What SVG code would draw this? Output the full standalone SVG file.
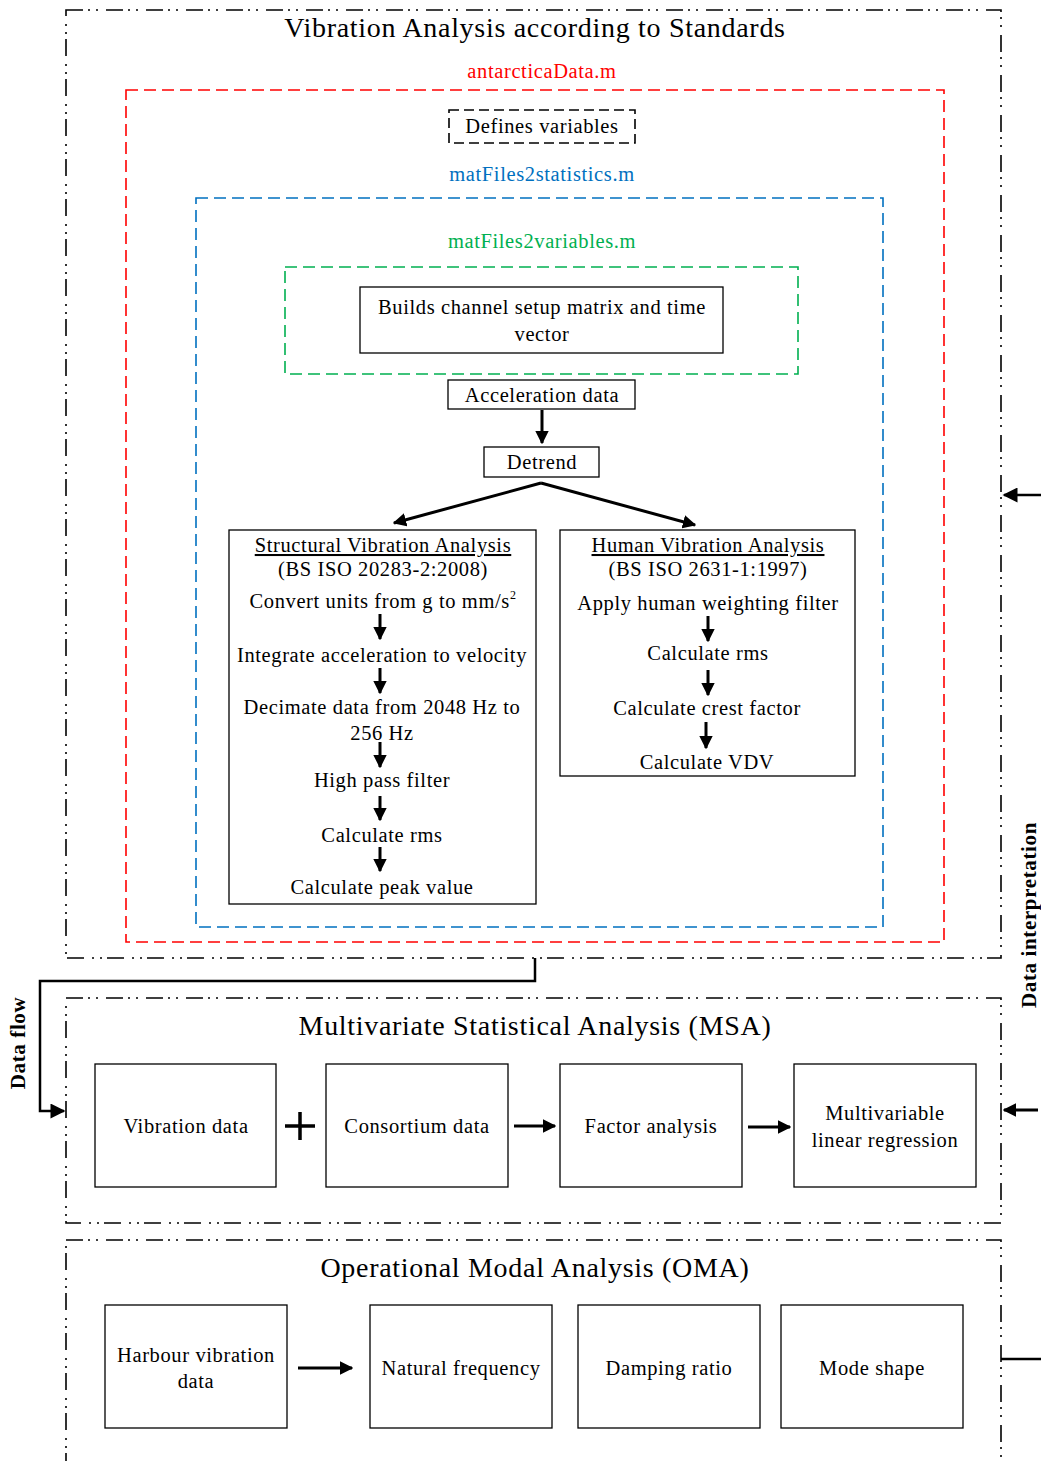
<svg xmlns="http://www.w3.org/2000/svg" width="1041" height="1461" viewBox="0 0 1041 1461">
<style>
text{font-family:"Liberation Serif","Times New Roman",serif;fill:#000;letter-spacing:0.03em}
.t26{font-size:28px;text-anchor:middle;letter-spacing:0.025em}
.t19{font-size:20.5px;text-anchor:middle}
.t20{font-size:20.5px;text-anchor:middle}
.b{font-weight:bold;font-size:21px;text-anchor:middle}
.frame{fill:none;stroke:#000;stroke-width:1.6;stroke-dasharray:17 5 2 6 2 8}
.box{fill:#fff;stroke:#000;stroke-width:1.3}
.red{fill:none;stroke:#f00;stroke-width:1.6;stroke-dasharray:12 6}
.blue{fill:none;stroke:#0070C0;stroke-width:1.6;stroke-dasharray:12 6}
.green{fill:none;stroke:#00B050;stroke-width:1.6;stroke-dasharray:12 6}
.blk{fill:none;stroke:#000;stroke-width:1.6;stroke-dasharray:10 5}
.c{fill:none;stroke:#000;stroke-width:3}
.c2{fill:none;stroke:#000;stroke-width:2.5}
</style>
<defs>
<marker id="ah" viewBox="0 0 10 10" refX="9" refY="5" markerWidth="4.5" markerHeight="4.5" markerUnits="strokeWidth" orient="auto">
<path d="M0,0 L10,5 L0,10 z" fill="#000"/>
</marker>
<marker id="ah2" viewBox="0 0 10 10" refX="9" refY="5" markerWidth="9" markerHeight="6" markerUnits="strokeWidth" orient="auto">
<path d="M0,0 L10,5 L0,10 z" fill="#000"/>
</marker>
</defs>
<rect width="1041" height="1461" fill="#fff"/>

<g id="vas">
<rect class="frame" x="66" y="10" width="935" height="948"/>
<text class="t26" x="535" y="37">Vibration Analysis according to Standards</text>
</g>
<g id="antarcticaData">
<text class="t19" x="542" y="78" style="fill:#f00">antarcticaData.m</text>
<rect class="red" x="126" y="90" width="818" height="852"/>
</g>
<g id="defines">
<rect class="blk" x="449" y="110" width="186" height="33"/>
<text class="t19" x="542" y="133">Defines variables</text>
</g>
<g id="matFiles2statistics">
<text class="t19" x="542" y="181" style="fill:#0070C0">matFiles2statistics.m</text>
<rect class="blue" x="196" y="198" width="687" height="729"/>
</g>
<g id="matFiles2variables">
<text class="t19" x="542" y="248" style="fill:#00B050">matFiles2variables.m</text>
<rect class="green" x="285" y="267" width="513" height="107"/>
</g>
<g id="builds">
<rect class="box" x="360" y="287" width="363" height="66"/>
<text class="t19" x="542" y="314">Builds channel setup matrix and time</text>
<text class="t19" x="542" y="341">vector</text>
</g>
<g id="accel">
<rect class="box" x="448" y="380" width="187" height="29"/>
<text class="t19" x="542" y="402">Acceleration data</text>
</g>
<g id="detrend">
<rect class="box" x="484" y="447" width="115" height="30"/>
<text class="t19" x="542" y="469">Detrend</text>
</g>
<g id="structural">
<rect class="box" x="229" y="530" width="307" height="374"/>
<text class="t19" x="383" y="552" text-decoration="underline">Structural Vibration Analysis</text>
<text class="t19" x="383" y="576">(BS ISO 20283-2:2008)</text>
<text class="t19" x="383" y="608">Convert units from g to mm/s<tspan font-size="12" dy="-9">2</tspan></text>
<text class="t19" x="382" y="662">Integrate acceleration to velocity</text>
<text class="t19" x="382" y="714">Decimate data from 2048 Hz to</text>
<text class="t19" x="382" y="740">256 Hz</text>
<text class="t19" x="382" y="787">High pass filter</text>
<text class="t19" x="382" y="842">Calculate rms</text>
<text class="t19" x="382" y="894">Calculate peak value</text>
</g>
<g id="human">
<rect class="box" x="560" y="530" width="295" height="246"/>
<text class="t19" x="708" y="552" text-decoration="underline">Human Vibration Analysis</text>
<text class="t19" x="708" y="576">(BS ISO 2631-1:1997)</text>
<text class="t19" x="708" y="610">Apply human weighting filter</text>
<text class="t19" x="708" y="660">Calculate rms</text>
<text class="t19" x="707" y="715">Calculate crest factor</text>
<text class="t19" x="707" y="769">Calculate VDV</text>
</g>

<g id="msa">
<rect class="frame" x="66" y="998" width="935" height="225"/>
<text class="t26" x="535" y="1035">Multivariate Statistical Analysis (MSA)</text>
</g>
<g id="vibdata"><rect class="box" x="95" y="1064" width="181" height="123"/><text class="t20" x="186" y="1133">Vibration data</text></g>
<g id="consortium"><rect class="box" x="326" y="1064" width="182" height="123"/><text class="t20" x="417" y="1133">Consortium data</text></g>
<g id="factor"><rect class="box" x="560" y="1064" width="182" height="123"/><text class="t20" x="651" y="1133">Factor analysis</text></g>
<g id="mlr"><rect class="box" x="794" y="1064" width="182" height="123"/><text class="t20" x="885" y="1120">Multivariable</text><text class="t20" x="885" y="1147">linear regression</text></g>

<g id="oma">
<rect class="frame" x="66" y="1240" width="935" height="240"/>
<text class="t26" x="535" y="1277">Operational Modal Analysis (OMA)</text>
</g>
<g id="harbour"><rect class="box" x="105" y="1305" width="182" height="123"/><text class="t20" x="196" y="1362">Harbour vibration</text><text class="t20" x="196" y="1388">data</text></g>
<g id="natural"><rect class="box" x="370" y="1305" width="182" height="123"/><text class="t20" x="461" y="1375">Natural frequency</text></g>
<g id="damping"><rect class="box" x="578" y="1305" width="182" height="123"/><text class="t20" x="669" y="1375">Damping ratio</text></g>
<g id="mode"><rect class="box" x="781" y="1305" width="182" height="123"/><text class="t20" x="872" y="1375">Mode shape</text></g>

<g id="labels">
<text class="b" transform="translate(25,1043) rotate(-90)">Data flow</text>
<text class="b" transform="translate(1036,915) rotate(-90)">Data interpretation</text>
</g>

<g id="connectors">
<line class="c" x1="542" y1="410" x2="542" y2="443" marker-end="url(#ah)"/>
<line class="c" x1="541" y1="483" x2="394" y2="523" marker-end="url(#ah)"/>
<line class="c" x1="541" y1="483" x2="695" y2="525" marker-end="url(#ah)"/>
<line class="c" x1="380" y1="614" x2="380" y2="639" marker-end="url(#ah)"/>
<line class="c" x1="380" y1="668" x2="380" y2="693" marker-end="url(#ah)"/>
<line class="c" x1="380" y1="742" x2="380" y2="767" marker-end="url(#ah)"/>
<line class="c" x1="380" y1="796" x2="380" y2="820" marker-end="url(#ah)"/>
<line class="c" x1="380" y1="847" x2="380" y2="871" marker-end="url(#ah)"/>
<line class="c" x1="708" y1="616" x2="708" y2="641" marker-end="url(#ah)"/>
<line class="c" x1="708" y1="670" x2="708" y2="695" marker-end="url(#ah)"/>
<line class="c" x1="706" y1="722" x2="706" y2="748" marker-end="url(#ah)"/>
<path class="c2" d="M535,958 V981 H40 V1111 H64" marker-end="url(#ah2)"/>
<path d="M285,1126 H315 M300,1112 V1140" stroke="#000" stroke-width="3.5" fill="none"/>
<line class="c" x1="514" y1="1126" x2="555" y2="1126" marker-end="url(#ah)"/>
<line class="c" x1="748" y1="1127" x2="790" y2="1127" marker-end="url(#ah)"/>
<line class="c" x1="298" y1="1368" x2="352" y2="1368" marker-end="url(#ah)"/>
<line class="c2" x1="1041" y1="495" x2="1004" y2="495" marker-end="url(#ah2)"/>
<line class="c" x1="1038" y1="1110" x2="1004" y2="1110" marker-end="url(#ah)"/>
<line class="c2" x1="1001" y1="1359" x2="1041" y2="1359"/>
</g>
</svg>
